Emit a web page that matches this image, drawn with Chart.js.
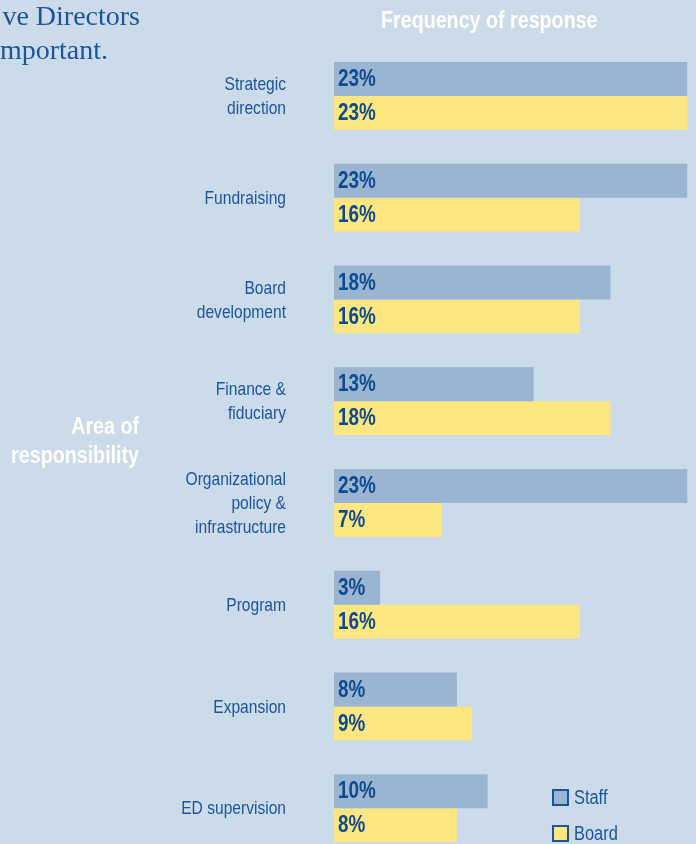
<!DOCTYPE html>
<html>
<head>
<meta charset="utf-8">
<script src="https://cdn.jsdelivr.net/npm/chart.js@4.4.1/dist/chart.umd.min.js"></script>
<style>
  html, body { margin: 0; padding: 0; width: 696px; height: 844px; overflow: hidden; background: #cbdbe9; }
  #wrap { position: relative; width: 696px; height: 844px; }
  canvas { position: absolute; left: 0; top: 0; }
  .t { position: absolute; white-space: nowrap; }
  .serif { font-family: "Liberation Serif", "DejaVu Serif", serif; font-size: 28px; color: #1b5597; text-align: right; }
  .head { font-family: "Liberation Sans", Arial, sans-serif; font-weight: bold; font-size: 24px; color: #ffffff; }
  .narrowL { transform: scaleX(0.82); transform-origin: left center; }
  .narrowR { transform: scaleX(0.82); transform-origin: right center; }
</style>
</head>
<body>
<div id="wrap">
  <canvas id="c" width="696" height="904"></canvas>
  <div class="t serif" style="right:556px; top:0px; line-height:32px;">ve Directors</div>
  <div class="t serif" style="right:588px; top:34px; line-height:32px;">mportant.</div>
  <div class="t head narrowL" style="left:381px; top:6px; line-height:28px;">Frequency of response</div>
  <div class="t head narrowR" style="right:557px; top:411px; line-height:29px; text-align:right;">Area of<br>responsibility</div>
</div>
<script>
// Areas of responsibility (one line per array entry)
const categories = [
  ["Strategic", "direction"],
  ["Fundraising"],
  ["Board", "development"],
  ["Finance &", "fiduciary"],
  ["Organizational", "policy &", "infrastructure"],
  ["Program"],
  ["Expansion"],
  ["ED supervision"]
];
// Frequency of response, percent
const staffValues = [23, 23, 18, 13, 23, 3, 8, 10];
const boardValues = [23, 16, 16, 18, 7, 16, 9, 8];
const seriesNames = ["Staff", "Board"];

const STAFF_COLOR = "#99b5d2";
const BOARD_COLOR = "#fee680";
const SANS = '"Liberation Sans", Arial, sans-serif';
const SQUEEZE = 0.82; // condensed look for all sans text

// draw text squeezed horizontally, anchored at x with the given alignment
function narrowText(ctx, text, x, y, align) {
  ctx.save();
  ctx.translate(x, y);
  ctx.scale(SQUEEZE, 1);
  ctx.textAlign = align;
  ctx.fillText(text, 0, 0);
  ctx.restore();
}

// Category names, right-aligned beside each group of bars
const categoryLabels = {
  id: "categoryLabels",
  afterDraw(chart) {
    const ctx = chart.ctx;
    const yScale = chart.scales.y;
    const lineH = 24;
    ctx.save();
    ctx.font = "19px " + SANS;
    ctx.fillStyle = "#1b5597";
    ctx.textBaseline = "middle";
    chart.data.labels.forEach((lines, i) => {
      const cy = yScale.getPixelForValue(i);
      const top = cy - (lines.length - 1) * lineH / 2;
      lines.forEach((line, k) => narrowText(ctx, line, 286, top + k * lineH + 1, "right"));
    });
    ctx.restore();
  }
};

// Percent labels written inside the start of each bar
const barLabels = {
  id: "barLabels",
  afterDatasetsDraw(chart) {
    const ctx = chart.ctx;
    ctx.save();
    ctx.font = "bold 23px " + SANS;
    ctx.fillStyle = "#0e4a8e";
    ctx.textBaseline = "middle";
    chart.data.datasets.forEach((ds, di) => {
      chart.getDatasetMeta(di).data.forEach((bar, i) => {
        narrowText(ctx, ds.data[i] + "%", bar.base + 4, bar.y + 1, "left");
      });
    });
    ctx.restore();
  }
};

// Square-marker legend stacked in the lower right corner
const cornerLegend = {
  id: "cornerLegend",
  afterDraw(chart) {
    const ctx = chart.ctx;
    ctx.save();
    ctx.font = "20px " + SANS;
    ctx.textBaseline = "middle";
    chart.data.datasets.forEach((ds, di) => {
      const y = 797 + di * 36;
      ctx.fillStyle = ds.backgroundColor;
      ctx.fillRect(553, y - 7, 15, 15);
      ctx.lineWidth = 2;
      ctx.strokeStyle = "#1b5597";
      ctx.strokeRect(553, y - 7, 15, 15);
      ctx.fillStyle = "#1b5597";
      narrowText(ctx, ds.label, 574, y + 1, "left");
    });
    ctx.restore();
  }
};

new Chart(document.getElementById("c"), {
  type: "bar",
  data: {
    labels: categories,
    datasets: [
      { label: seriesNames[0], data: staffValues, backgroundColor: STAFF_COLOR },
      { label: seriesNames[1], data: boardValues, backgroundColor: BOARD_COLOR }
    ]
  },
  options: {
    indexAxis: "y",
    responsive: false,
    animation: false,
    events: [],
    layout: { padding: { top: 45, bottom: 45, left: 0, right: 0 } },
    datasets: { bar: { barPercentage: 1, categoryPercentage: 0.6683, borderWidth: 0 } },
    scales: {
      x: { display: false, min: 0, max: 23.57 },
      y: {
        grid: { display: false, drawTicks: false },
        border: { display: false },
        ticks: { display: false },
        afterFit(scale) { scale.width = 334; }
      }
    },
    plugins: { legend: { display: false }, tooltip: { enabled: false } }
  },
  plugins: [categoryLabels, barLabels, cornerLegend]
});
</script>
</body>
</html>
